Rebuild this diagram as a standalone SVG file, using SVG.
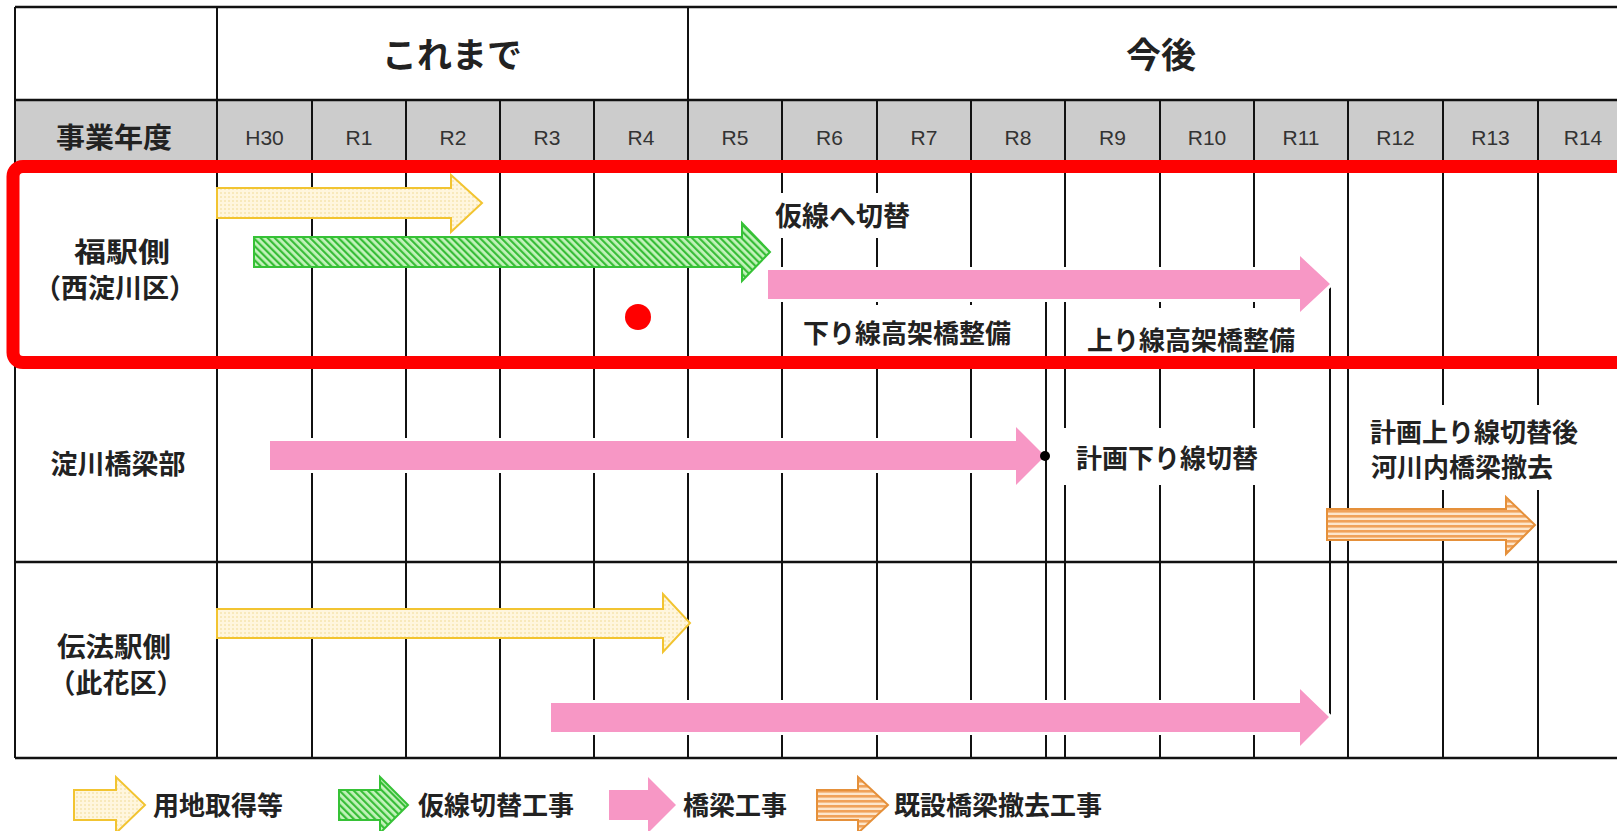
<svg xmlns="http://www.w3.org/2000/svg" width="1617" height="831" viewBox="0 0 1617 831">
<style>
.grid{stroke:#111;stroke-width:2;fill:none}
.hgrid{stroke:#111;stroke-width:2.5;fill:none}
.jp{font-family:"Noto Sans CJK JP","Noto Sans CJK SC",sans-serif;font-weight:bold;fill:#222}
.yr{font-family:"Liberation Sans",Arial,sans-serif;font-size:21px;fill:#333;text-anchor:middle}
.lbl{font-size:26px}
.row{font-size:27px;text-anchor:middle}
.hdr{font-size:35px;text-anchor:middle}
.box{fill:#fff}
.yel{fill:url(#dots);stroke:#f2c431;stroke-width:2}
.grn{fill:url(#hatch);stroke:#36c236;stroke-width:2}
.pnk{fill:#f797c5}
.pnkh{fill:#f797c5;stroke:#fff;stroke-width:6;paint-order:stroke}
.org{fill:url(#stripes);stroke:#e5903a;stroke-width:2}
</style>
<defs>
<pattern id="dots" width="4" height="4" patternUnits="userSpaceOnUse"><rect width="4" height="4" fill="#fff6de"/><circle cx="1" cy="1" r="0.8" fill="#f1d98f"/></pattern>
<pattern id="hatch" width="5" height="5" patternUnits="userSpaceOnUse" patternTransform="rotate(-45)"><rect width="5" height="5" fill="#c4f3bc"/><rect width="2.2" height="5" fill="#38bd38"/></pattern>
<pattern id="stripes" width="5" height="5" patternUnits="userSpaceOnUse"><rect width="5" height="5" fill="#fde6cc"/><rect width="5" height="2.6" fill="#f0a25a"/></pattern>
</defs>
<rect width="1617" height="831" fill="#fff"/>

<g id="table">
<rect x="15" y="100" width="1602" height="70" fill="#cccccc"/>
<path class="hgrid" d="M15 7H1617M15 100H1617M15 170H1617M15 361H1617M15 562H1617M15 758H1617"/>
<path class="grid" d="M15 7V758M217 7V758M688 7V100"/>
<path class="grid" d="M312 100V758M406 100V758M500 100V758M594 100V758M688 100V758M782 100V758M877 100V758M971 100V758M1065 100V758M1160 100V758M1254 100V758M1348 100V758M1443 100V758M1538 100V758"/>
</g>

<g id="headers">
<text class="jp hdr" x="452" y="68">これまで</text>
<text class="jp hdr" x="1161" y="68">今後</text>
<text class="jp" x="114" y="148" font-size="28" text-anchor="middle" textLength="116" lengthAdjust="spacingAndGlyphs">事業年度</text>
<text class="yr" x="264.5" y="145">H30</text>
<text class="yr" x="359" y="145">R1</text>
<text class="yr" x="453" y="145">R2</text>
<text class="yr" x="547" y="145">R3</text>
<text class="yr" x="641" y="145">R4</text>
<text class="yr" x="735" y="145">R5</text>
<text class="yr" x="829.5" y="145">R6</text>
<text class="yr" x="924" y="145">R7</text>
<text class="yr" x="1018" y="145">R8</text>
<text class="yr" x="1112.5" y="145">R9</text>
<text class="yr" x="1207" y="145">R10</text>
<text class="yr" x="1301" y="145">R11</text>
<text class="yr" x="1395.5" y="145">R12</text>
<text class="yr" x="1490.5" y="145">R13</text>
<text class="yr" x="1583" y="145">R14</text>
</g>

<g id="row-fuku">
<text class="jp row" x="122" y="262" textLength="96" lengthAdjust="spacingAndGlyphs">福駅側</text>
<text class="jp row" x="115" y="298">（西淀川区）</text>
</g>
<g id="row-yodogawa">
<text class="jp row" x="118" y="474">淀川橋梁部</text>
</g>
<g id="row-denpo">
<text class="jp row" x="114" y="657" textLength="114" lengthAdjust="spacingAndGlyphs">伝法駅側</text>
<text class="jp row" x="116" y="693">（此花区）</text>
</g>

<g id="label-boxes">
<rect class="box" x="770" y="193" width="152" height="45"/>
<rect class="box" x="790" y="305" width="250" height="52"/>
<rect class="box" x="1068" y="308" width="252" height="52"/>
<rect class="box" x="1052" y="428" width="208" height="57"/>
<rect class="box" x="1360" y="405" width="240" height="85"/>
</g>

<g id="connectors">
<path class="grid" d="M1046 300V758"/>
<path class="grid" d="M1330 284V717"/>
<path class="yel" d="M217 188H451V175L482 203L451 232V218H217Z"/>
<path class="grn" d="M254 237H742V223L770 252L742 281V267H254Z"/>
<path class="pnkh" d="M768 270H1300V256L1330 284L1300 312V299H768Z"/>
<path class="pnkh" d="M270 441H1016V427L1045 456L1016 485V470H270Z"/>
<path class="org" d="M1327 509H1506V497L1535 525L1506 554V540H1327Z"/>
<path class="yel" d="M217 609H663V594L690 623L663 652V638H217Z"/>
<path class="pnkh" d="M551 703H1300V689L1329 717L1300 746V732H551Z"/>
<circle cx="1045" cy="456" r="5" fill="#000"/>
</g>

<g id="labels">
<text class="jp" x="775" y="226" font-size="27">仮線へ切替</text>
<text class="jp lbl" x="803" y="343">下り線高架橋整備</text>
<text class="jp lbl" x="1087" y="350">上り線高架橋整備</text>
<text class="jp lbl" x="1076" y="468">計画下り線切替</text>
<text class="jp lbl" x="1370" y="442">計画上り線切替後</text>
<text class="jp lbl" x="1371" y="477">河川内橋梁撤去</text>
</g>

<g id="highlight">
<rect x="13" y="166.5" width="1640" height="196" rx="10" fill="none" stroke="#ff0000" stroke-width="13"/>
<circle cx="638" cy="317" r="13" fill="#ff0000"/>
</g>

<g id="legend">
<path class="yel" d="M74 790H116V777L145 805L116 833V820H74Z"/>
<text class="jp lbl" x="153" y="815">用地取得等</text>
<path class="grn" d="M339 790H380V777L408 805L380 833V820H339Z"/>
<text class="jp lbl" x="418" y="815">仮線切替工事</text>
<path class="pnk" d="M609 790H648V777L676 805L648 833V820H609Z"/>
<text class="jp lbl" x="683" y="815">橋梁工事</text>
<path class="org" d="M817 790H858V777L888 805L858 833V820H817Z"/>
<text class="jp lbl" x="894" y="815">既設橋梁撤去工事</text>
</g>
</svg>
